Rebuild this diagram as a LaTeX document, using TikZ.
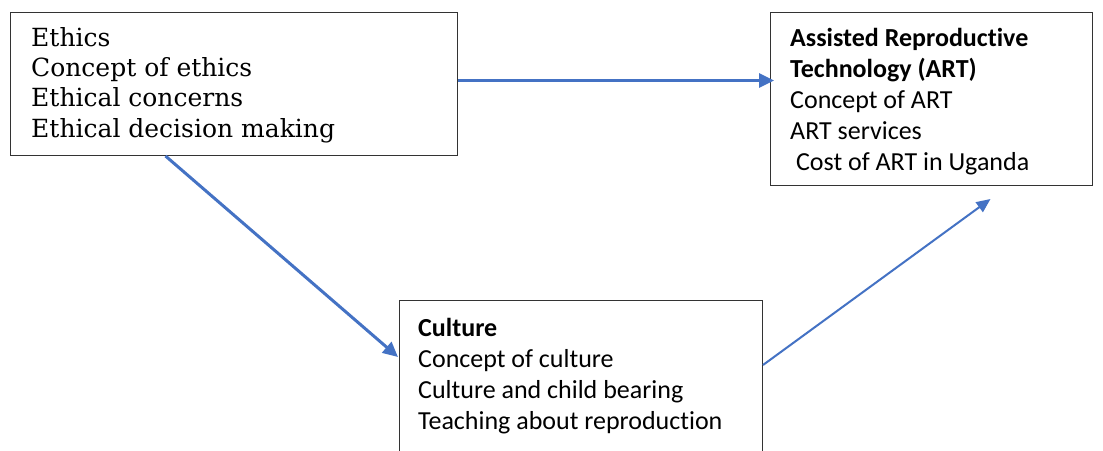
\documentclass[tikz,border=0pt]{standalone}
\usepackage{fontspec}
\setmainfont{Carlito}[Ligatures={NoCommon,NoRare}]
\newfontfamily\bookserif{DejaVu Serif}
\usetikzlibrary{arrows.meta}
\definecolor{artblue}{RGB}{68,114,196}
\begin{document}
\begin{tikzpicture}[x=1pt,y=-1pt,
  box/.style={draw=black!80, line width=1pt, anchor=north west, inner sep=0pt},
  sanstxt/.style={anchor=base west, align=left, inner sep=0pt, font=\fontsize{26}{31}\selectfont},
  seriftxt/.style={anchor=base west, align=left, inner sep=0pt, font=\bookserif\fontsize{25}{30.3}\selectfont},
  link/.style={draw=artblue, line width=3pt, -{Triangle[length=15pt,width=14pt]}},
  thinlink/.style={draw=artblue, line width=2pt, -{Triangle[length=14pt,width=12pt]}}]
\useasboundingbox[fill=white] (0,0) rectangle (1103,450);
\node[box, minimum width=447pt, minimum height=143pt] (ethics) at (10,12) {};
\node[box, minimum width=322pt, minimum height=173pt] (art) at (770,12) {};
\node[box, minimum width=363pt, minimum height=200pt] (culture) at (399,300) {};
% base anchor = baseline of the last line
\node[seriftxt] (ethicsText) at (31,137) {Ethics\\Concept of ethics\\Ethical concerns\\Ethical decision making};
\node[sanstxt] (artText) at (790,170.7) {\textbf{Assisted Reproductive}\\\textbf{Technology (ART)}\\Concept of ART\\ART services\\\ Cost of ART in Uganda};
\node[sanstxt] (cultureText) at (418,429.3) {\textbf{Culture}\\Concept of culture\\Culture and child bearing\\Teaching about reproduction};
\draw[link] ([yshift=3.5pt]ethics.east) -- ([yshift=3.5pt,xshift=4pt]ethics.east -| art.west);
\draw[link] ([xshift=-68.5pt]ethics.south) -- ([yshift=-57pt,xshift=-1pt]culture.north west);
\draw[thinlink] ([yshift=-65pt]culture.north east) -- ([xshift=59pt,yshift=-13pt]art.south);
\end{tikzpicture}
\end{document}
